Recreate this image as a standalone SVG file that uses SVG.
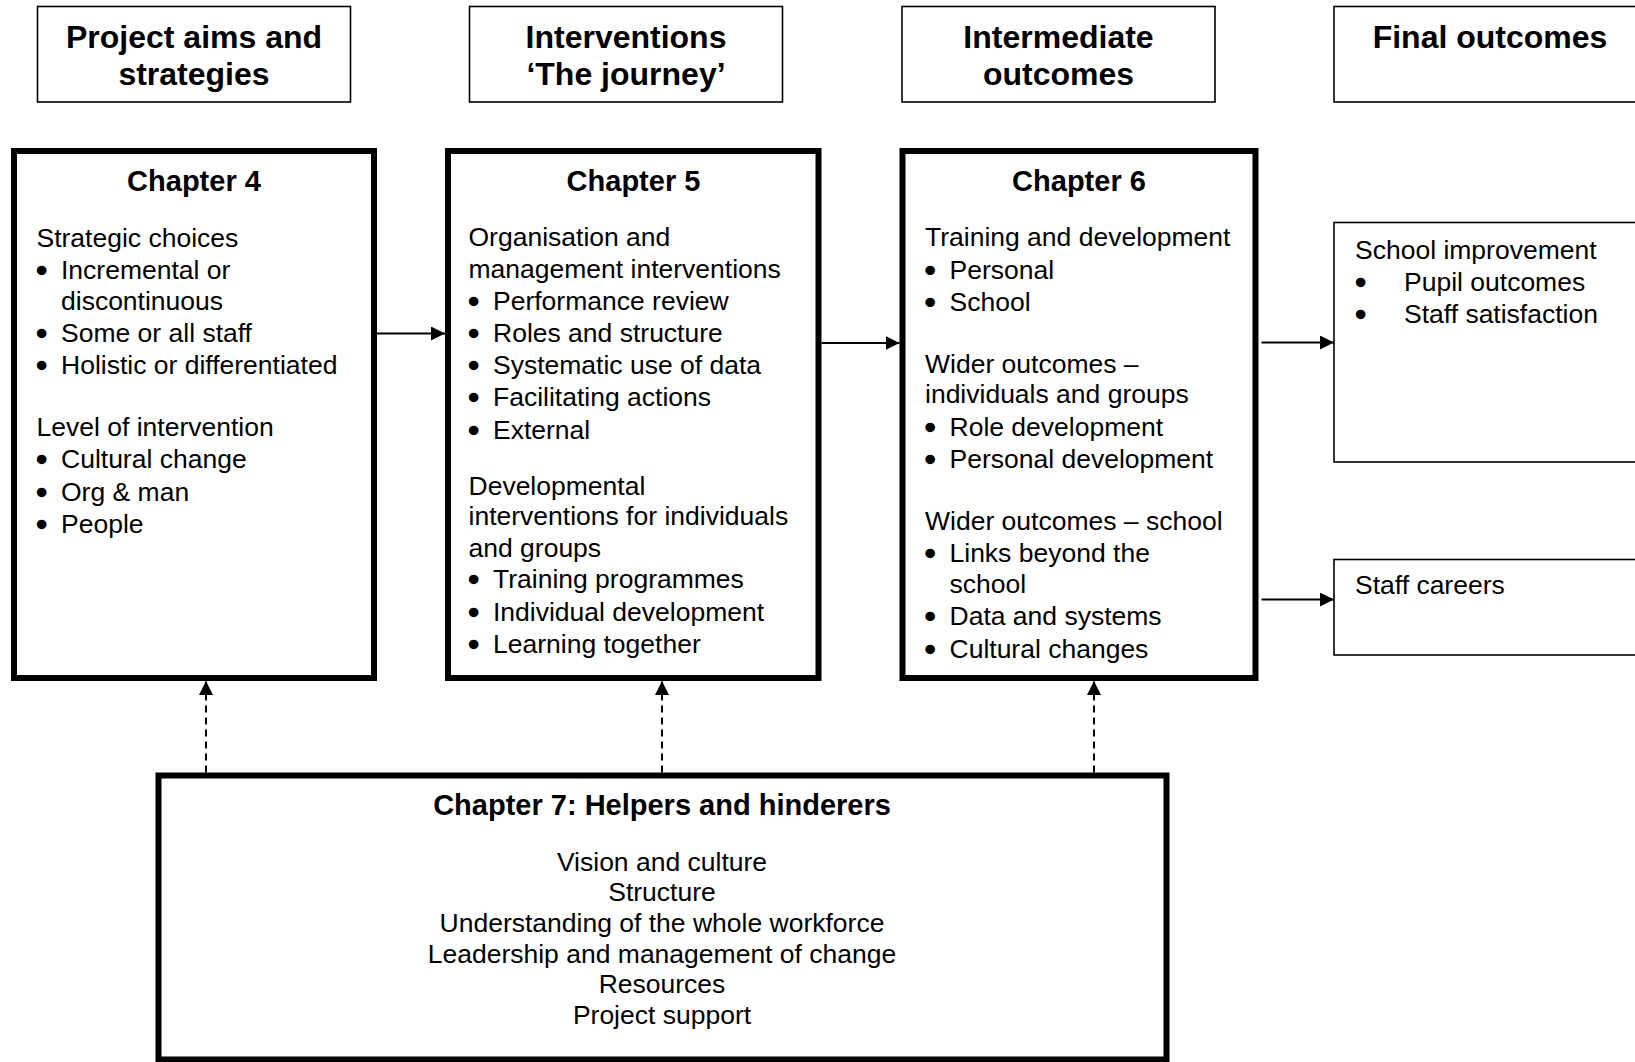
<svg xmlns="http://www.w3.org/2000/svg" width="1635" height="1062" viewBox="0 0 1635 1062">
  <style>
    text { font-family: "Liberation Sans", Arial, Helvetica, sans-serif; fill: #000; }
    .head { font-size: 32px; font-weight: bold; text-anchor: middle; }
    .title { font-size: 29px; font-weight: bold; text-anchor: middle; }
    .body { font-size: 26.5px; }
    .dot { font-size: 26.5px; stroke: #000; stroke-width: 2.4; stroke-linejoin: round; }
    .center { text-anchor: middle; }
    .thin { fill: #fff; stroke: #000; stroke-width: 1.6; }
    .thick { fill: #fff; stroke: #000; stroke-width: 6; }
    .link { stroke: #000; stroke-width: 2; fill: none; }
    .dash { stroke: #000; stroke-width: 2; fill: none; stroke-dasharray: 7 5; }
  </style>
  <defs>
    <marker id="arrow" viewBox="0 0 14 14" refX="14" refY="7" markerWidth="14" markerHeight="14" markerUnits="userSpaceOnUse" orient="auto">
      <path d="M0,0 L14,7 L0,14 Z" fill="#000"/>
    </marker>
  </defs>

  <rect width="1635" height="1062" fill="#fff"/>

  <!-- column headings -->
  <g id="head-aims">
    <rect class="thin" x="37.5" y="6.5" width="313" height="95.5"/>
    <text class="head" x="194" y="47.5">Project aims and</text>
    <text class="head" x="194" y="84.5">strategies</text>
  </g>
  <g id="head-interventions">
    <rect class="thin" x="469.5" y="6.5" width="313" height="95.5"/>
    <text class="head" x="626" y="47.5">Interventions</text>
    <text class="head" x="626" y="84.5">‘The journey’</text>
  </g>
  <g id="head-intermediate">
    <rect class="thin" x="902" y="6.5" width="313" height="95.5"/>
    <text class="head" x="1058.5" y="47.5">Intermediate</text>
    <text class="head" x="1058.5" y="84.5">outcomes</text>
  </g>
  <g id="head-final">
    <rect class="thin" x="1334" y="6.5" width="313" height="95.5"/>
    <text class="head" x="1490" y="48">Final outcomes</text>
  </g>

  <!-- Chapter 4 -->
  <g id="chapter4">
    <rect class="thick" x="14" y="151" width="360" height="527"/>
    <text class="title" x="194" y="191">Chapter 4</text>
    <text class="body" x="36.5" y="247">Strategic choices</text>
    <text class="dot" x="37" y="279">•</text><text class="body" x="61" y="279">Incremental or</text>
    <text class="body" x="61" y="309.5">discontinuous</text>
    <text class="dot" x="37" y="342">•</text><text class="body" x="61" y="342">Some or all staff</text>
    <text class="dot" x="37" y="374">•</text><text class="body" x="61" y="374">Holistic or differentiated</text>
    <text class="body" x="36.5" y="436">Level of intervention</text>
    <text class="dot" x="37" y="468">•</text><text class="body" x="61" y="468">Cultural change</text>
    <text class="dot" x="37" y="500.5">•</text><text class="body" x="61" y="500.5">Org &amp; man</text>
    <text class="dot" x="37" y="533">•</text><text class="body" x="61" y="533">People</text>
  </g>

  <!-- Chapter 5 -->
  <g id="chapter5">
    <rect class="thick" x="448" y="151" width="370.5" height="527"/>
    <text class="title" x="633.5" y="191">Chapter 5</text>
    <text class="body" x="468.5" y="246">Organisation and</text>
    <text class="body" x="468.5" y="277.5">management interventions</text>
    <text class="dot" x="469" y="309.5">•</text><text class="body" x="493" y="309.5">Performance review</text>
    <text class="dot" x="469" y="342">•</text><text class="body" x="493" y="342">Roles and structure</text>
    <text class="dot" x="469" y="374">•</text><text class="body" x="493" y="374">Systematic use of data</text>
    <text class="dot" x="469" y="406">•</text><text class="body" x="493" y="406">Facilitating actions</text>
    <text class="dot" x="469" y="438.5">•</text><text class="body" x="493" y="438.5">External</text>
    <text class="body" x="468.5" y="495">Developmental</text>
    <text class="body" x="468.5" y="525">interventions for individuals</text>
    <text class="body" x="468.5" y="556.5">and groups</text>
    <text class="dot" x="469" y="588">•</text><text class="body" x="493" y="588">Training programmes</text>
    <text class="dot" x="469" y="621">•</text><text class="body" x="493" y="621">Individual development</text>
    <text class="dot" x="469" y="653">•</text><text class="body" x="493" y="653">Learning together</text>
  </g>

  <!-- Chapter 6 -->
  <g id="chapter6">
    <rect class="thick" x="902.5" y="151" width="353" height="527"/>
    <text class="title" x="1079" y="191">Chapter 6</text>
    <text class="body" x="925" y="246">Training and development</text>
    <text class="dot" x="925.5" y="279">•</text><text class="body" x="949.5" y="279">Personal</text>
    <text class="dot" x="925.5" y="310.5">•</text><text class="body" x="949.5" y="310.5">School</text>
    <text class="body" x="925" y="373">Wider outcomes –</text>
    <text class="body" x="925" y="402.5">individuals and groups</text>
    <text class="dot" x="925.5" y="435.5">•</text><text class="body" x="949.5" y="435.5">Role development</text>
    <text class="dot" x="925.5" y="468">•</text><text class="body" x="949.5" y="468">Personal development</text>
    <text class="body" x="925" y="529.5">Wider outcomes – school</text>
    <text class="dot" x="925.5" y="561.5">•</text><text class="body" x="949.5" y="561.5">Links beyond the</text>
    <text class="body" x="949.5" y="593">school</text>
    <text class="dot" x="925.5" y="625">•</text><text class="body" x="949.5" y="625">Data and systems</text>
    <text class="dot" x="925.5" y="657.5">•</text><text class="body" x="949.5" y="657.5">Cultural changes</text>
  </g>

  <!-- Final outcomes -->
  <g id="school-improvement">
    <rect class="thin" x="1334" y="222.5" width="313" height="239.5"/>
    <text class="body" x="1355" y="259">School improvement</text>
    <text class="dot" x="1356" y="291">•</text><text class="body" x="1404" y="291">Pupil outcomes</text>
    <text class="dot" x="1356" y="323">•</text><text class="body" x="1404" y="323">Staff satisfaction</text>
  </g>
  <g id="staff-careers">
    <rect class="thin" x="1334" y="559.5" width="313" height="95.5"/>
    <text class="body" x="1355" y="594">Staff careers</text>
  </g>

  <!-- Chapter 7 -->
  <g id="chapter7">
    <rect class="thick" x="158.5" y="775.5" width="1008" height="284"/>
    <text class="title" x="662" y="815">Chapter 7: Helpers and hinderers</text>
    <text class="body center" x="662" y="871">Vision and culture</text>
    <text class="body center" x="662" y="901">Structure</text>
    <text class="body center" x="662" y="931.5">Understanding of the whole workforce</text>
    <text class="body center" x="662" y="962.5">Leadership and management of change</text>
    <text class="body center" x="662" y="993">Resources</text>
    <text class="body center" x="662" y="1024">Project support</text>
  </g>

  <!-- connectors -->
  <g id="connectors">
    <line class="link" x1="377" y1="333.5" x2="445" y2="333.5" marker-end="url(#arrow)"/>
    <line class="link" x1="821.5" y1="343" x2="899.5" y2="343" marker-end="url(#arrow)"/>
    <line class="link" x1="1261.5" y1="342.5" x2="1334" y2="342.5" marker-end="url(#arrow)"/>
    <line class="link" x1="1261.5" y1="599.5" x2="1334" y2="599.5" marker-end="url(#arrow)"/>
    <line class="dash" x1="206" y1="772.5" x2="206" y2="681" marker-end="url(#arrow)"/>
    <line class="dash" x1="662" y1="772.5" x2="662" y2="681" marker-end="url(#arrow)"/>
    <line class="dash" x1="1094" y1="772.5" x2="1094" y2="681" marker-end="url(#arrow)"/>
  </g>
</svg>
